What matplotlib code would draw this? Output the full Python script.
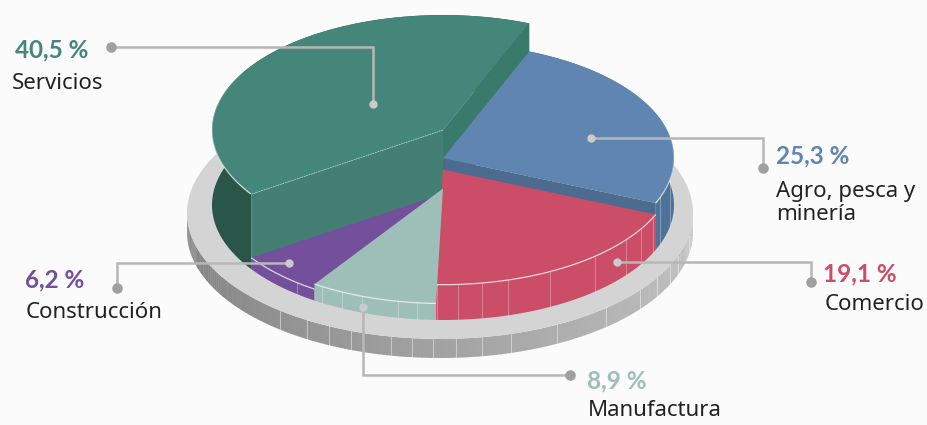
import numpy as np
import matplotlib
matplotlib.use("Agg")
import matplotlib.pyplot as plt
from matplotlib.patches import Polygon, Ellipse

# values, clockwise from the blue slice
names = ["Agro, pesca y\nminería", "Comercio", "Manufactura", "Construcción", "Servicios"]
values = [25.3, 19.1, 8.9, 6.2, 40.5]
top_colors = ["#6085b0", "#cb4d68", "#9dbfb8", "#744f9b", "#44877a"]
side_colors = ["#4f7298", "#cb4d68", "#9dbfb8", "#744f9b", "#2a5549"]
text_colors = ["#6085b0", "#cb4d68", "#9dbfb8", "#744f9b", "#44877a"]

# seams on the rim, degrees clockwise from the top
seams = [100.3, 109.8, 114.6, 121, 127.8, 139, 152.5, 163.7, 170.4, 176.4,
         181.6, 186.4, 191.2, 200.6, 206, 211.7, 219.2]

start_angle = 21.9
height_per_pct = 1.85
cx, cy, rx, ry = 443, 205, 231, 115
plate_cx, plate_cy, plate_rx, plate_ry, plate_h = 440, 213, 253, 126, 19

plt.rcParams['font.family'] = ['Noto Sans', 'DejaVu Sans']
fig = plt.figure(figsize=(9.28, 4.25), dpi=100, facecolor="#fbfbfb")
ax = fig.add_axes([0, 0, 1, 1])
ax.set_xlim(0, 928)
ax.set_ylim(425, 0)
ax.axis("off")


def point(theta, z=0):
    t = np.radians(theta)
    return np.column_stack([cx + rx * np.sin(t), cy - ry * np.cos(t) - z])


def plate_point(theta, z=0):
    t = np.radians(theta)
    return np.column_stack([plate_cx + plate_rx * np.sin(t), plate_cy - plate_ry * np.cos(t) + z])


def arc(a, b):
    return np.linspace(a, b, max(int(abs(b - a) * 2), 2))


# base plate, the rim is shaded from left to right
dark = np.array([0.49, 0.49, 0.49])
light = np.array([0.78, 0.78, 0.78])
for a in np.arange(90, 270, 1.0):
    th = arc(a, a + 1.2)
    col = light + (dark - light) * (a - 90) / 180
    ax.add_patch(Polygon(np.vstack([plate_point(th), plate_point(th[::-1], plate_h)]),
                         fc=col, ec="none", zorder=1))
for s in seams:
    ax.plot(*np.vstack([plate_point(np.array([s])), plate_point(np.array([s]), plate_h)]).T,
            color="white", alpha=0.45, lw=0.7, zorder=1.5)
ax.add_patch(Ellipse((plate_cx, plate_cy), 2 * plate_rx, 2 * plate_ry, fc="#d4d4d4", ec="none", zorder=2))

# slice angles
angles = start_angle + np.concatenate([[0], np.cumsum(values)]) * 3.6
slices = []
for i in range(len(values)):
    slices.append((i, angles[i], angles[i + 1], values[i] * height_per_pct))
by_name = {n: s for n, s in zip(["blue", "red", "teal", "purple", "green"], slices)}

# back to front
z = 3
for key in ["green", "blue", "red", "purple", "teal"]:
    i, a, b, h = by_name[key]
    th = arc(a, b)
    # outer wall
    ax.add_patch(Polygon(np.vstack([point(th, h), point(th[::-1], 0)]),
                         fc=side_colors[i], ec="none", zorder=z))
    for s in seams:
        if a < s < b and key != "green":
            ax.plot(*np.vstack([point(np.array([s]), h), point(np.array([s]), 0)]).T,
                    color="white", alpha=0.3, lw=0.7, zorder=z + 0.1)
    # cut faces
    centre_top = np.array([[cx, cy - h]])
    centre_low = np.array([[cx, cy]])
    if key == "green":
        ax.add_patch(Polygon(np.vstack([centre_top, point(np.array([a]), h),
                                        point(np.array([a]), 0), centre_low]),
                             fc="#437f72", ec="none", zorder=z + 0.2))
        ax.add_patch(Polygon(np.vstack([centre_top, point(np.array([b]), h),
                                        point(np.array([b]), 0), centre_low]),
                             fc="#3a7a6b", ec="none", zorder=z + 0.2))
    if key == "blue":
        ax.add_patch(Polygon(np.vstack([centre_top, point(np.array([b]), h),
                                        point(np.array([b]), 0), centre_low]),
                             fc="#4c6b8f", ec="none", zorder=z + 0.2))
    # top
    ax.add_patch(Polygon(np.vstack([centre_top, point(th, h)]),
                         fc=top_colors[i], ec="none", zorder=z + 0.3))
    # light edge on the rim, fading out towards the back
    if key == "green":
        edge = arc(a + 0.3, 305)
    elif key == "blue":
        edge = arc(b, 70)
    else:
        edge = th
    pts = point(edge, h)
    for k in range(len(edge) - 1):
        if key == "green" or key == "blue":
            fade = 0.9 * (1 - k / (len(edge) - 1))
        else:
            fade = 0.85
        ax.plot(pts[k:k + 2, 0], pts[k:k + 2, 1], color="#eef6f6", lw=0.9, alpha=fade,
                solid_capstyle="butt", zorder=z + 0.4)
    z += 1

# dashed edge where the green top meets its front face
i, a, b, h = by_name["green"]
ax.plot(*np.vstack([[[cx, cy - h]], point(np.array([a]), h)]).T, color="#a9cfc5",
        lw=0.6, ls=(0, (2, 1)), zorder=8.5)

# leader lines and dots
line_color = "#b7b7b7"
leaders = [
    ([591, 763, 763], [138, 138, 168]),
    ([617, 811, 811], [262, 262, 282]),
    ([363, 363, 570], [307, 375, 375]),
    ([289, 117, 117], [263, 263, 288]),
    ([373, 373, 111], [104, 47, 47]),
]
for lx, ly in leaders:
    ax.plot(lx, ly, color=line_color, lw=1.8, solid_joinstyle="miter", zorder=20)
    ax.plot(lx[0], ly[0], "o", color="#cbcbcb", ms=6, mew=0, zorder=21)
    ax.plot(lx[-1], ly[-1], "o", color="#a0a0a0", ms=7.6, mew=0, zorder=21)

# texts
pct_pos = [(776, 156), (823, 274), (587, 381), (25, 280), (15, 50)]
name_pos = [(776, 203), (825, 304), (588, 411), (26, 312), (12, 83)]
for i in range(len(values)):
    txt = f"{values[i]:.1f} %".replace(".", ",")
    ax.text(pct_pos[i][0], pct_pos[i][1], txt, color=text_colors[i], fontsize=17.5,
            family=['Lato', 'DejaVu Sans'], fontweight="bold", va="center", ha="left", zorder=30)
    ax.text(name_pos[i][0], name_pos[i][1], names[i], color="#222222", fontsize=16,
            va="center", ha="left", linespacing=1.12, zorder=30)

fig.savefig("out.png", dpi=100, facecolor=fig.get_facecolor())
